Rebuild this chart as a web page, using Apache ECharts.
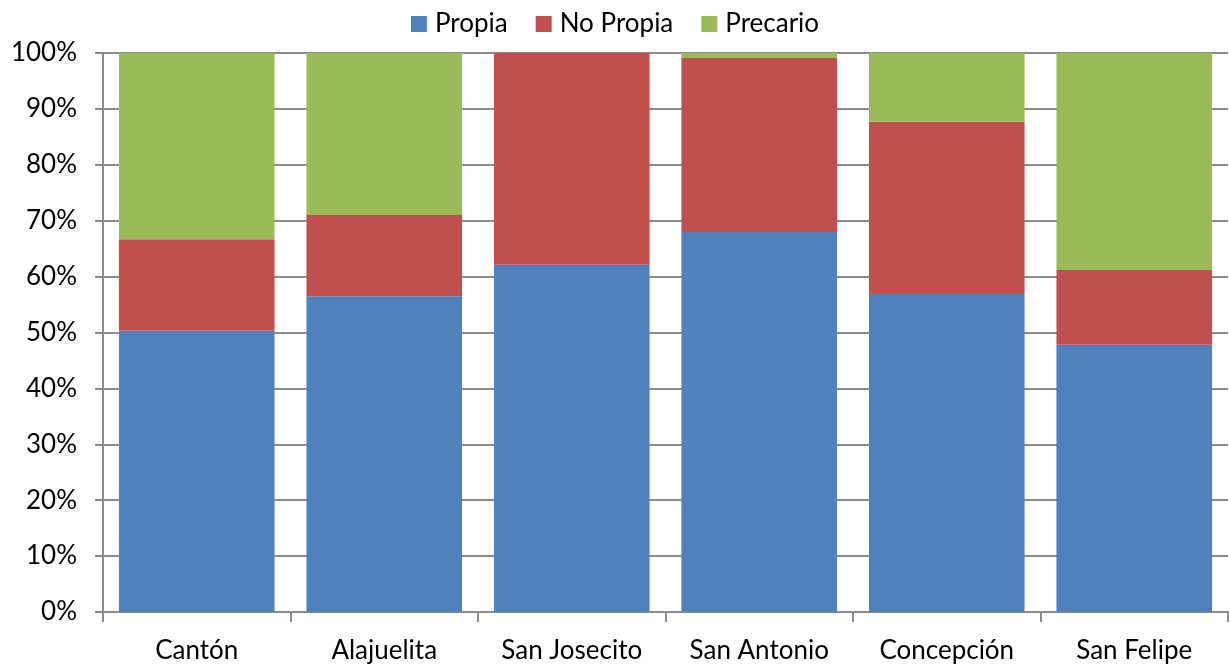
<!DOCTYPE html>
<html><head><meta charset="utf-8">
<script src="https://cdn.jsdelivr.net/npm/echarts@6/dist/echarts.min.js"></script>
<style>html,body{margin:0;padding:0;background:#fff}#c{width:1230px;height:667px}</style>
</head><body><div id="c"></div>
<script>
const categories = ["Cantón", "Alajuelita", "San Josecito", "San Antonio", "Concepción", "San Felipe"];
const propia = [50.3, 56.5, 62.1, 68.0, 56.9, 47.8];
const noPropia = [16.4, 14.5, 37.9, 31.1, 30.8, 13.4];
const precario = [33.3, 29.0, 0.0, 0.9, 12.3, 38.8];
const yTicks = [0, 10, 20, 30, 40, 50, 60, 70, 80, 90, 100];

const font = "Lato, 'Open Sans', sans-serif";
const chart = echarts.init(document.getElementById('c'), null, {renderer: 'canvas'});
const mk = (name, data, color) => ({
  name, type: 'bar', stack: 'a', data, barCategoryGap: '17%',
  itemStyle: {color}, emphasis: {disabled: true}
});
chart.setOption({
  animation: false,
  legend: {
    top: 6, left: 'center', itemWidth: 16, itemHeight: 16, itemGap: 28,
    icon: 'rect',
    textStyle: {fontFamily: font, fontSize: 26, color: '#000', padding: [0, 0, 0, 3]},
    data: ['Propia', 'No Propia', 'Precario']
  },
  grid: {left: 103, right: 2, top: 53, bottom: 55, containLabel: false},
  xAxis: {
    type: 'category', data: categories,
    axisLine: {lineStyle: {color: '#8c8c8c', width: 2}},
    axisTick: {show: true, length: 10, alignWithLabel: false, lineStyle: {color: '#8c8c8c', width: 2}},
    axisLabel: {fontFamily: font, fontSize: 26, color: '#000', margin: 26}
  },
  yAxis: {
    type: 'value', min: 0, max: 100, interval: 10,
    axisLine: {show: true, lineStyle: {color: '#8c8c8c', width: 2}},
    axisTick: {show: true, length: 8, lineStyle: {color: '#8c8c8c', width: 2}},
    axisLabel: {fontFamily: font, fontSize: 26, color: '#000', margin: 26,
      formatter: v => yTicks.includes(v) ? v + '%' : ''},
    splitLine: {lineStyle: {color: '#8c8c8c', width: 2}}
  },
  series: [
    mk('Propia', propia, '#4F81BD'),
    mk('No Propia', noPropia, '#C0504D'),
    mk('Precario', precario, '#9BBB59')
  ]
});
</script></body></html>
